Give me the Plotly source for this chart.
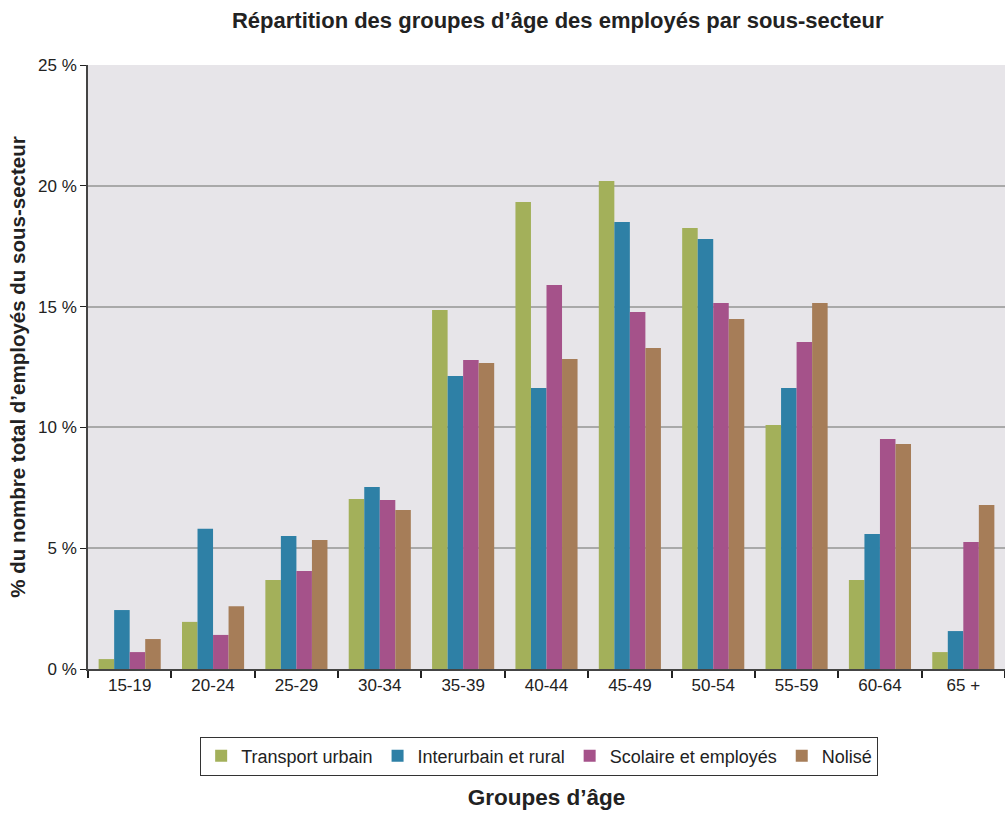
import plotly.graph_objects as go

categories = ["15-19", "20-24", "25-29", "30-34", "35-39", "40-44", "45-49", "50-54", "55-59", "60-64", "65 +"]
transport_urbain = [0.41, 1.95, 3.68, 7.04, 14.86, 19.33, 20.2, 18.25, 10.1, 3.68, 0.70]
interurbain_rural = [2.44, 5.8, 5.5, 7.53, 12.13, 11.63, 18.5, 17.8, 11.63, 5.59, 1.57]
scolaire_employes = [0.70, 1.41, 4.06, 7.0, 12.79, 15.89, 14.78, 15.15, 13.53, 9.52, 5.26]
nolise = [1.24, 2.6, 5.34, 6.58, 12.67, 12.83, 13.29, 14.49, 15.15, 9.31, 6.79]

series = [
    ("Transport urbain", transport_urbain, "#A3B05A"),
    ("Interurbain et rural", interurbain_rural, "#2E80A6"),
    ("Scolaire et employés", scolaire_employes, "#A5528A"),
    ("Nolisé", nolise, "#A67D58"),
]

fig = go.Figure()
for name, vals, col in series:
    fig.add_trace(go.Bar(
        x=categories, y=vals, name=name,
        marker=dict(color=col, line=dict(width=0)),
    ))

font_family = "Liberation Sans, Arial, sans-serif"

fig.update_layout(
    width=1005, height=814,
    margin=dict(l=88, r=0, t=65, b=145),
    paper_bgcolor="white",
    plot_bgcolor="#E7E5E9",
    barmode="group",
    bargap=0.255,
    bargroupgap=0,
    font=dict(family=font_family, size=17, color="#222222"),
    title=dict(
        text="<b>Répartition des groupes d’âge des employés par sous-secteur</b>",
        x=0.555, xanchor="center", y=1 - 20 / 814, yanchor="middle",
        font=dict(size=22, color="#222222"),
    ),
    showlegend=True,
    legend=dict(
        orientation="h",
        x=0.492, xanchor="center",
        y=-0.112, yanchor="top",
        bordercolor="#333333", borderwidth=1,
        bgcolor="white",
        font=dict(size=18),
        itemwidth=30,
        traceorder="normal",
    ),
    xaxis=dict(
        showgrid=False,
        showline=True, linecolor="#444444", linewidth=2,
        ticks="outside", tickson="boundaries", ticklen=7, tickcolor="#222222", tickwidth=1.5,
        tickfont=dict(size=17),
        title=dict(text="<b>Groupes d’âge</b>", font=dict(size=22.5), standoff=95),
        automargin=False,
    ),
    yaxis=dict(
        range=[0, 25], dtick=5,
        ticksuffix=" %",
        showgrid=True, gridcolor="#A9A9A9", gridwidth=2,
        showline=True, linecolor="#444444", linewidth=1.5,
        ticks="outside", ticklen=6, tickcolor="#222222",
        tickfont=dict(size=17),
        zeroline=False,
        title=dict(text="<b>% du nombre total d’employés du sous-secteur</b>", font=dict(size=20.5), standoff=7),
        automargin=False,
    ),
)

fig.write_html(
    "out.html",
    config={"displayModeBar": False},
    post_script="document.body.style.margin='0px';",
)
